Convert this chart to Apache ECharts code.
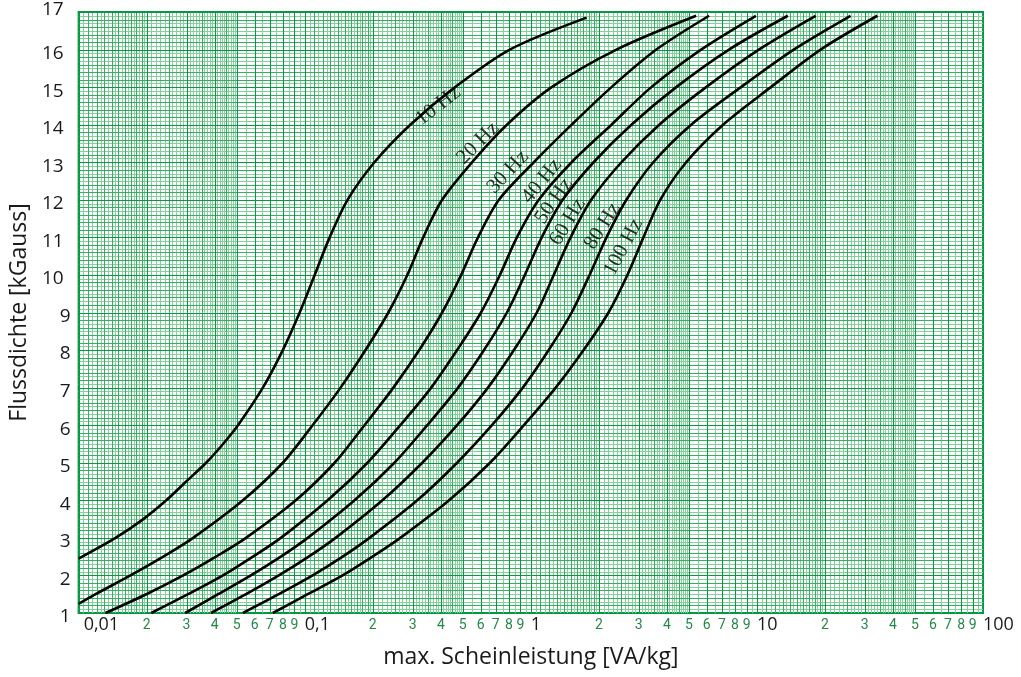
<!DOCTYPE html>
<html><head><meta charset="utf-8">
<script src="https://cdn.jsdelivr.net/npm/echarts@6/dist/echarts.min.js"></script>
<style>html,body{margin:0;padding:0;background:#fff}#c{width:1021px;height:677px}</style>
</head><body><div id="c"></div>
<script>
// ---- data (P in VA/kg, B in kGauss) ----
const seriesNames = ['10 Hz','20 Hz','30 Hz','40 Hz','50 Hz','60 Hz','80 Hz','100 Hz'];
const b10 = [2.45,3,3.5,4,4.5,5,5.5,6,7,8,9,10,11,12,13,14,15,16,16.85];
const p10 = [0.01,0.01456,0.01933,0.02442,0.02991,0.03664,0.04352,0.05068,0.0653,0.08,0.095,0.1107,0.1289,0.1547,0.2034,0.2931,0.4624,0.8078,1.765];
const b20 = [1.24,1.5,2,2.5,3,4,5,6,7,8,9,10,11,12,13,14,15,16,16.9];
const p20 = [0.01,0.01188,0.01695,0.02368,0.0321,0.0533,0.080,0.1084,0.1441,0.1857,0.2344,0.2843,0.3343,0.4054,0.5497,0.784,1.237,2.393,5.386];
const bStd = [1,1.5,2,2.5,3,4,5,6,7,8,9,10,11,12,13,14,15,16,16.9];
const p30 = [0.01315,0.01993,0.0290,0.0405,0.055,0.0913,0.1356,0.1838,0.2467,0.3211,0.4054,0.4916,0.584,0.723,1.031,1.516,2.274,3.591,6.145];
const p40 = [0.02097,0.0305,0.0435,0.059,0.0784,0.1263,0.1895,0.2648,0.3627,0.472,0.6022,0.730,0.868,1.085,1.516,2.274,3.412,5.666,9.90];
const p50 = [0.0296,0.0414,0.0578,0.0784,0.1031,0.1661,0.2492,0.3483,0.477,0.621,0.784,0.941,1.118,1.384,1.895,2.785,4.398,7.528,13.7];
const p60 = [0.0385,0.055,0.0768,0.1041,0.1369,0.2206,0.3311,0.472,0.6466,0.842,1.063,1.263,1.500,1.850,2.517,3.701,5.961,10.2,18.19];
const p80 = [0.0533,0.0768,0.1084,0.1471,0.1934,0.3147,0.472,0.673,0.922,1.200,1.516,1.819,2.162,2.648,3.483,5.121,8.502,14.55,25.95];
const p100 = [0.0723,0.1031,0.1471,0.1993,0.2648,0.4352,0.660,0.932,1.289,1.712,2.206,2.675,3.148,3.738,4.867,7.084,11.53,19.14,34.12];
const curveB = [b10,b20,bStd,bStd,bStd,bStd,bStd,bStd];
const curveP = [p10,p20,p30,p40,p50,p60,p80,p100];
// curve label anchors [P, B] and rotation
const labelAnchor = [[0.389,14.5],[0.584,13.51],[0.792,12.74],[1.118,12.5],[1.263,11.97],[1.455,11.41],[2.076,11.30],[2.568,10.74]];
const labelRot = [38,45,47,51,55,59,58,62];
const yTicks = [1,17];
const xRange = [0.01,100];
const xTitle = 'max. Scheinleistung [VA/kg]';
const yTitle = 'Flussdichte [kGauss]';

// ---- grid line positions (log paper) ----
const vLines = [];
for (let e = -2; e < 2; e++) {
  const d = Math.pow(10, e);
  const steps = [[1,2,0.05,0.1],[2,5,0.1,0.5],[5,10,0.5,1]];
  steps.forEach(([a,b,s,med]) => {
    const n = Math.round((b-a)/s);
    for (let i = 0; i < n; i++) {
      const m = Math.round((a + i*s)*100)/100;
      let lv = 0;
      if (Math.abs(m - Math.round(m)) < 1e-6) lv = 2;
      else if (Math.abs(m/med - Math.round(m/med)) < 1e-6) lv = 1;
      vLines.push([m*d, 1, lv]);
    }
  });
}
vLines.push([100,1,2]);
const hLines = [];
for (let i = 0; i <= 160; i++) {
  const lv = (i % 10 === 0) ? 2 : (i % 2 === 0 ? 1 : 0);
  hLines.push([0.01, Math.round((1 + i/10)*10)/10, lv]);
}
const minorLabels = [];
for (let e = -2; e < 2; e++) for (let m = 2; m <= 9; m++) minorLabels.push([m*Math.pow(10,e), 1, m]);

const GREEN = '#009a44';
const lineCols = ['#86d09d','#34b060','#07993f'];

const chart = echarts.init(document.getElementById('c'));
const series = [];
series.push({
  type:'custom', name:'vgrid', z:1, silent:true, clip:true,
  data: vLines, encode:{x:0,y:1},
  renderItem:(params, api) => {
    const x = api.value(0), lv = api.value(2);
    const p1 = api.coord([x, yTicks[0]]), p2 = api.coord([x, yTicks[1]]);
    const px = Math.round(p1[0]) + 0.5;
    return {type:'line', z2: lv, shape:{x1:px,y1:p1[1],x2:px,y2:p2[1]}, style:{stroke:lineCols[lv], lineWidth:1}};
  }
});
series.push({
  type:'custom', name:'hgrid', z:1, silent:true, clip:true,
  data: hLines, encode:{x:0,y:1},
  renderItem:(params, api) => {
    const y = api.value(1), lv = api.value(2);
    const p1 = api.coord([xRange[0], y]), p2 = api.coord([xRange[1], y]);
    const py = Math.round(p1[1]) + 0.5;
    return {type:'line', z2: lv, shape:{x1:p1[0],y1:py,x2:p2[0],y2:py}, style:{stroke:lineCols[lv], lineWidth:1}};
  }
});
series.push({
  type:'custom', name:'minorLabels', z:1, silent:true, clip:false,
  data: minorLabels, encode:{x:0,y:1},
  renderItem:(params, api) => {
    const p = api.coord([api.value(0), api.value(1)]);
    return {type:'text', x:p[0], y:p[1]+5, style:{text:String(api.value(2)), fill:'#27864d', font:'14px Roboto', align:'center', verticalAlign:'top'}};
  }
});
seriesNames.forEach((nm, k) => {
  series.push({
    type:'line', name:nm, z:3, smooth:0.3, symbol:'none', silent:true,
    lineStyle:{color:'#000', width:2.6},
    data: curveP[k].map((p,i) => [p, curveB[k][i]])
  });
});
series.push({
  type:'scatter', name:'labels', z:4, symbolSize:0, silent:true,
  data: labelAnchor.map((a,k) => ({value:a, label:{rotate:labelRot[k], formatter:seriesNames[k]}})),
  label:{show:true, position:'inside', color:'#000', fontFamily:'Liberation Serif', fontSize:21}
});

chart.setOption({
  animation:false,
  backgroundColor:'#fff',
  grid:{left:75, right:38, top:12, bottom:64, show:true, borderColor:GREEN, borderWidth:2, backgroundColor:'transparent'},
  xAxis:{
    type:'log', logBase:10, min:xRange[0], max:xRange[1],
    name:xTitle, nameLocation:'middle', nameGap:33,
    nameTextStyle:{fontFamily:'Open Sans', fontSize:23, color:'#1a1a1a'},
    axisLine:{show:false}, axisTick:{show:false}, splitLine:{show:false}, minorSplitLine:{show:false},
    axisLabel:{
      margin:3, align:'left', verticalAlign:'top', color:'#1a1a1a', fontFamily:'Open Sans', fontSize:18,
      formatter:(v) => v === 0.01 ? '{a|0,01}' : String(v).replace('.', ','),
      rich:{a:{padding:[0,0,0,5], fontFamily:'Open Sans', fontSize:18, color:'#1a1a1a'}}
    }
  },
  yAxis:{
    type:'value', min:yTicks[0], max:yTicks[1], interval:1,
    name:yTitle, nameLocation:'middle', nameGap:40,
    nameTextStyle:{fontFamily:'Open Sans', fontSize:23, color:'#1a1a1a'},
    axisLine:{show:false}, axisTick:{show:false}, splitLine:{show:false},
    axisLabel:{
      margin:8, color:'#1a1a1a', fontFamily:'Open Sans', fontSize:19,
      formatter:(v) => v === 17 ? '{t|17}' : (v >= 10 ? '{d|' + v + '}' : '{s|' + v + '}'),
      rich:{
        t:{padding:[0,7,4,0], fontFamily:'Open Sans', fontSize:19, color:'#1a1a1a'},
        d:{padding:[8,7,0,0], fontFamily:'Open Sans', fontSize:19, color:'#1a1a1a'},
        s:{padding:[8,0,0,0], fontFamily:'Open Sans', fontSize:19, color:'#1a1a1a'}
      }
    }
  },
  series
});
</script>
</body></html>
